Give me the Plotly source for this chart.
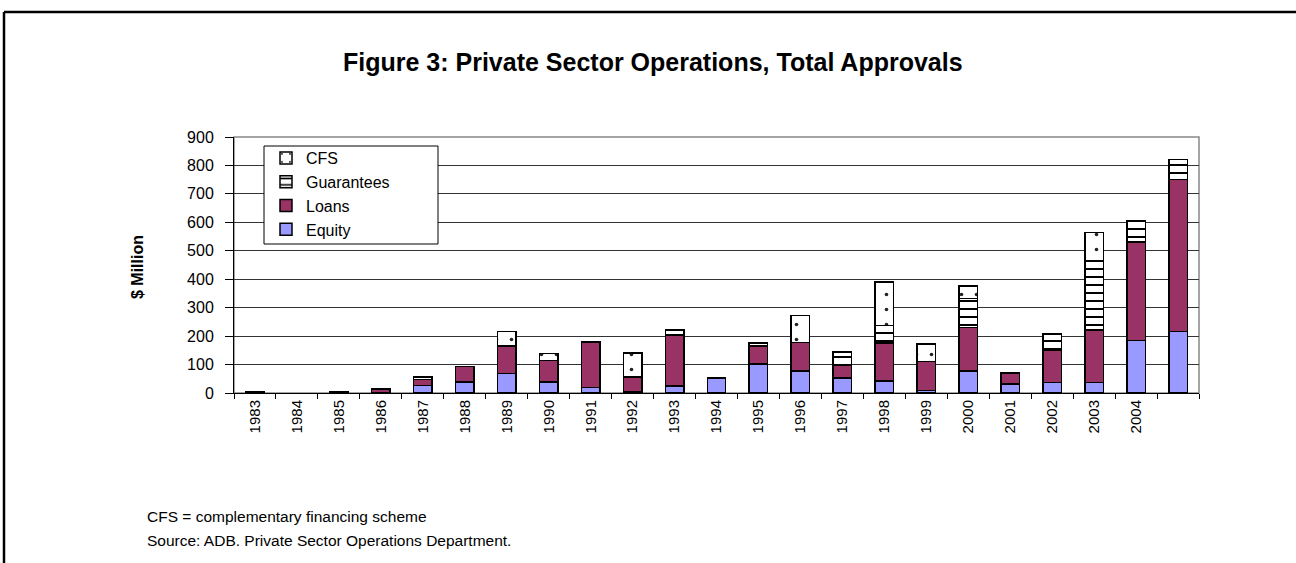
import plotly.graph_objects as go

# ---- data ($ million) ----
years = [str(y) for y in range(1983, 2006)]
tick_labels = [str(y) for y in range(1983, 2005)] + [""]

equity = [None, None, None, None, 27, 38, 69, 38, 19, 5, 25, 53, 102, 78, 53, 42, 9, 78, 32, 37, 37, 185, 217]
loans = [4, None, 4, 14, 20, 55, 96, 77, 160, 51, 179, None, 63, 100, 43, 134, 101, 152, 39, 112, 184, 346, 534]
guarantees = [None, None, None, None, None, None, None, None, None, None, None, None, 10, None, 48, 62, None, 103, None, 58, 244, 76, 70]
cfs = [None, None, None, None, 9, None, 52, 24, None, 85, 17, None, None, 94, None, 153, 62, 44, None, None, 100, None, None]

# ---- geometry of the plotting area (pixels) ----
W, H = 1296, 563
L, R, T, B = 234, 1199, 137, 393


def px(x):
    return (x - L) / (R - L)


def py(y):
    return (B - y) / (B - T)


FONT = "Arial, Liberation Sans, sans-serif"
outline = dict(color="black", width=1.5)

fig = go.Figure()
fig.add_trace(go.Bar(name="Equity", x=years, y=equity,
                     marker=dict(color="#9999FF", line=outline)))
fig.add_trace(go.Bar(name="Loans", x=years, y=loans,
                     marker=dict(color="#993366", line=outline)))
fig.add_trace(go.Bar(name="Guarantees", x=years, y=guarantees,
                     marker=dict(color="white", line=outline,
                                 pattern=dict(shape="-", size=8, solidity=0.25,
                                              fgcolor="black", bgcolor="white",
                                              fillmode="replace"))))
fig.add_trace(go.Bar(name="CFS", x=years, y=cfs,
                     marker=dict(color="white", line=outline,
                                 pattern=dict(shape=".", size=15, solidity=0.045,
                                              fgcolor="#222222", bgcolor="white",
                                              fillmode="replace"))))

fig.update_layout(
    width=W, height=H,
    margin=dict(l=L, r=W - R, t=T, b=H - B),
    paper_bgcolor="white", plot_bgcolor="white",
    barmode="stack", bargap=0.56,
    font=dict(family=FONT, color="black"),
    showlegend=True,
    legend=dict(x=px(266), y=py(141), xanchor="left", yanchor="top",
                traceorder="reversed", bgcolor="rgba(0,0,0,0)",
                borderwidth=0, font=dict(size=16, family=FONT)),
    xaxis=dict(type="category", tickmode="array", tickvals=years, ticktext=tick_labels,
               tickangle=-90, tickfont=dict(size=15), ticks="outside", ticklen=5,
               tickcolor="black", tickson="boundaries", showline=True,
               linecolor="black", linewidth=1, showgrid=False, zeroline=False),
    yaxis=dict(range=[0, 900], dtick=100, tickfont=dict(size=16), ticks="outside",
               ticklen=8, tickcolor="black", ticklabelstandoff=8, showline=True,
               linecolor="black", linewidth=1, showgrid=True, gridcolor="#333333",
               gridwidth=1, zeroline=False),
)

# plot-area frame (top and right in grey), legend box and outer page border
fig.add_shape(type="rect", xref="paper", yref="paper", x0=0, x1=1, y0=0, y1=1,
              line=dict(color="#888888", width=1.5), layer="below")
fig.add_shape(type="rect", xref="paper", yref="paper",
              x0=px(264), x1=px(438), y0=py(244), y1=py(146),
              line=dict(color="black", width=1), fillcolor="white", layer="above")
fig.add_shape(type="line", xref="paper", yref="paper",
              x0=px(4), x1=px(W), y0=py(12), y1=py(12),
              line=dict(color="black", width=2.5))
fig.add_shape(type="line", xref="paper", yref="paper",
              x0=px(4), x1=px(4), y0=py(12), y1=py(H),
              line=dict(color="black", width=2.5))

annotations = [
    dict(text="<b>Figure 3: Private Sector Operations, Total Approvals</b>",
         x=px(653), y=py(62), xanchor="center", yanchor="middle",
         font=dict(size=25, family=FONT)),
    dict(text="<b>$ Million</b>", textangle=-90,
         x=px(137), y=py(267), xanchor="center", yanchor="middle",
         font=dict(size=16, family=FONT)),
    dict(text="CFS = complementary financing scheme",
         x=px(145), y=py(516), xanchor="left", yanchor="middle",
         font=dict(size=15.5, family=FONT)),
    dict(text="Source: ADB. Private Sector Operations Department.",
         x=px(145), y=py(540), xanchor="left", yanchor="middle",
         font=dict(size=15.5, family=FONT)),
]
for a in annotations:
    fig.add_annotation(xref="paper", yref="paper", showarrow=False, **a)

fig.write_html("out.html")
